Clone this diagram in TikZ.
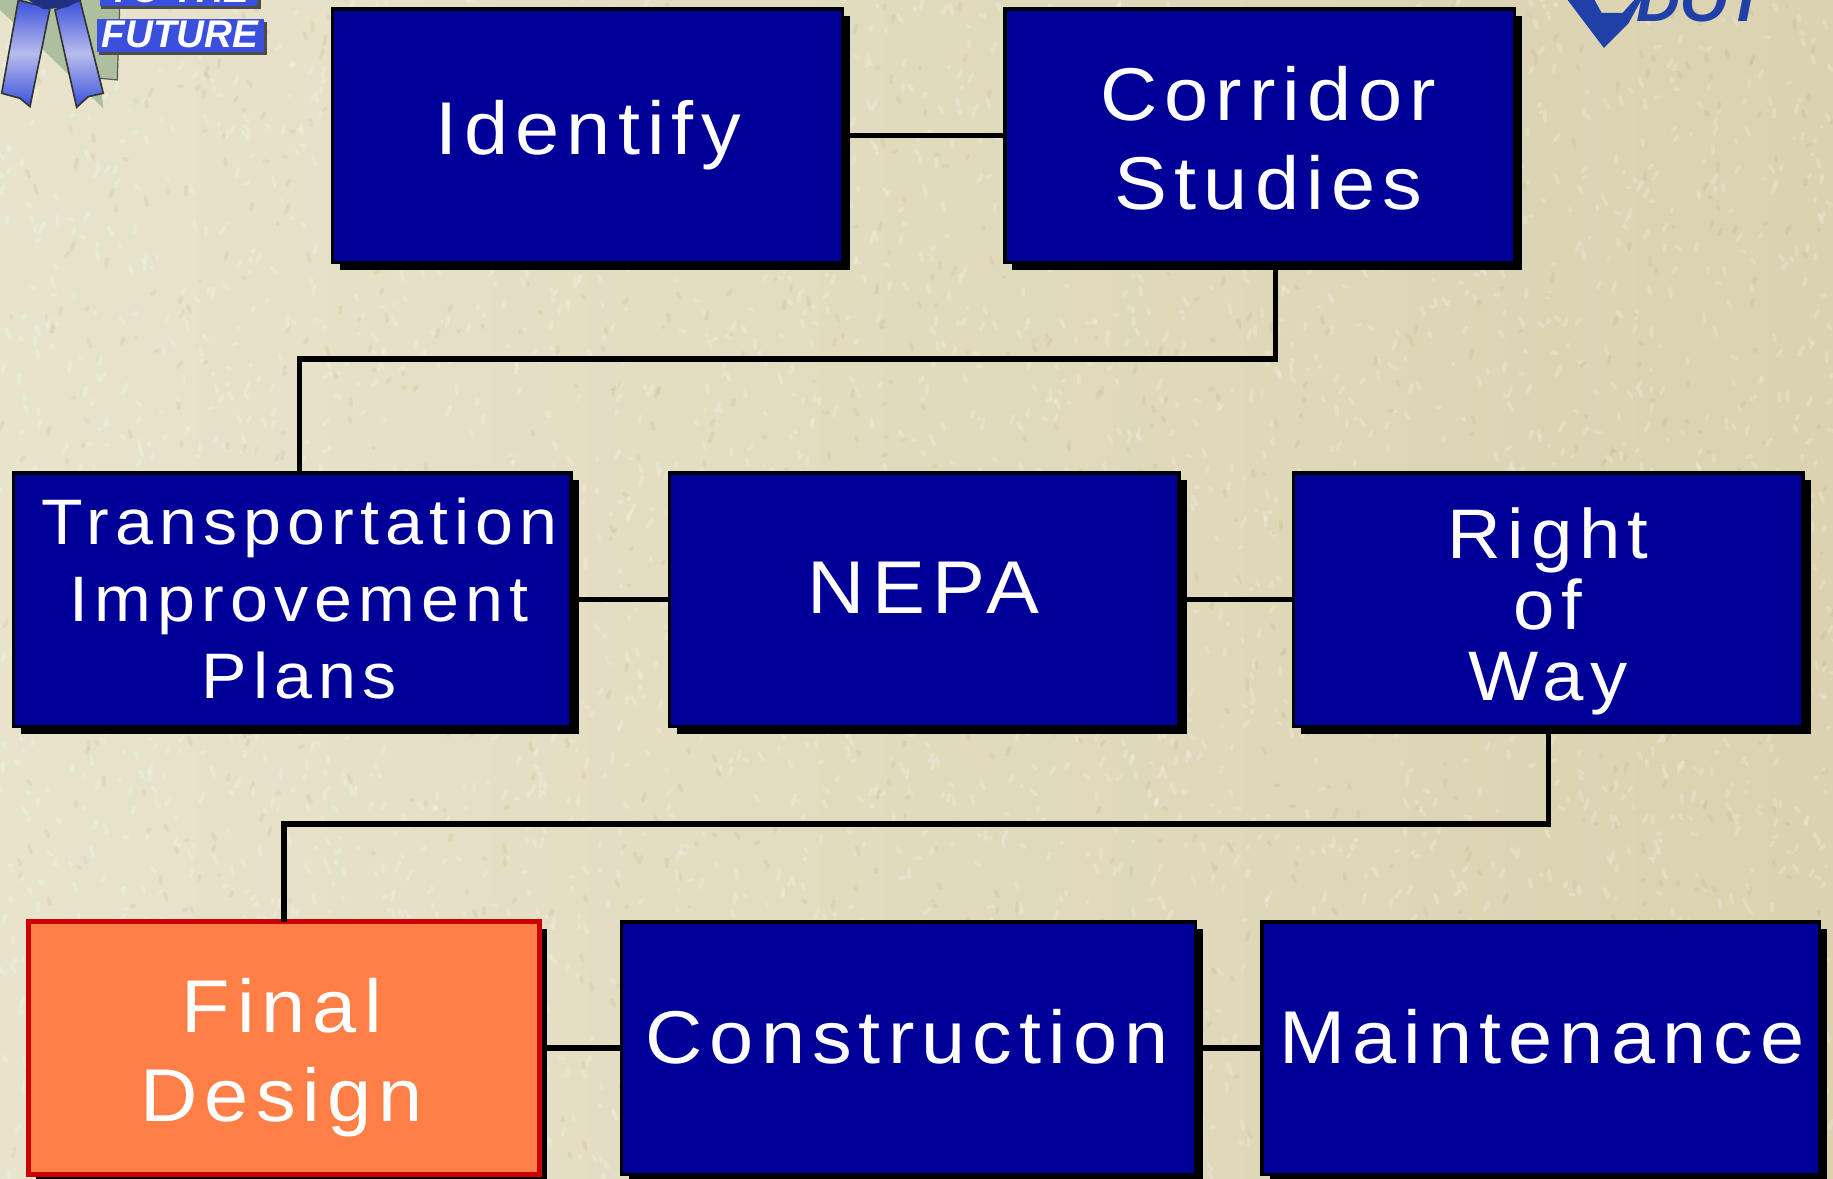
\documentclass[tikz,border=0pt]{standalone}
\usepackage{fontspec}
\setmainfont[LetterSpace=9.5,FakeStretch=1.06]{Liberation Sans}
\newfontfamily\logofont{Liberation Sans}
\usetikzlibrary{shadows,calc}
\definecolor{boxblue}{HTML}{000099}
\definecolor{boxorange}{HTML}{FF7F47}
\definecolor{boxred}{HTML}{CC0000}
\definecolor{paperL}{HTML}{E8E4CC}
\definecolor{paperR}{HTML}{DAD2B0}
\definecolor{fleckdark}{HTML}{8F8458}
\definecolor{logoblue}{HTML}{2B45B5}
\definecolor{ribbonblue}{HTML}{3A50DC}
\definecolor{odotblue}{HTML}{2040A8}
\definecolor{ribbonlight}{HTML}{B8BCEC}
\definecolor{logogreen}{HTML}{AEBF9E}
\tikzset{
  x=1pt,y=-1pt,
  flowbox/.style={draw=black,line width=3pt,fill=boxblue,anchor=north west,inner sep=0pt,outer sep=0pt,
    drop shadow={shadow xshift=6.5pt,shadow yshift=-6.5pt,fill=black,opacity=1}},
  hotbox/.style={flowbox,draw=boxred,line width=4pt,fill=boxorange},
  boxtext/.style={text=white,align=center,inner sep=0pt,font=\fontsize{64}{76}\selectfont},
  link/.style={draw=black,line width=4.6pt,line cap=butt,line join=miter},
  fleck/.style={line width=3.2pt,line cap=round},
}
\newcommand{\flowbox}[6][flowbox]{%
  \node[#1,minimum width=#5-#3-3,minimum height=#6-#4-3] (#2) at (#3+1.5,#4+1.5) {};}
\begin{document}
\begin{tikzpicture}
\useasboundingbox (0,0) rectangle (1568,1008);
\clip (0,0) rectangle (1568,1008);
% paper background
\shade[left color=paperL,right color=paperR] (0,0) rectangle (1568,1008);
\pgfmathsetseed{4242}
\foreach \i in {1,...,3500}{
  \pgfmathsetmacro{\px}{rnd*1568}
  \pgfmathsetmacro{\py}{rnd*1008}
  \pgfmathsetmacro{\dx}{(rnd-.5)*8}
  \pgfmathsetmacro{\dy}{(rnd-.5)*16}
  \draw[fleck,white,opacity=.2] (\px,\py) -- ++(\dx,\dy);
}
\foreach \i in {1,...,1200}{
  \pgfmathsetmacro{\px}{rnd*1568}
  \pgfmathsetmacro{\py}{rnd*1008}
  \pgfmathsetmacro{\dx}{(rnd-.5)*6}
  \pgfmathsetmacro{\dy}{(rnd-.5)*14}
  \draw[fleck,fleckdark,opacity=.1] (\px,\py) -- ++(\dx,\dy);
}
% left logo
\begin{scope}[x=.285pt,y=-.285pt]
  \fill[logogreen] (0,0) -- (360,0) -- (352,240) -- (300,235) -- (310,325) -- (130,150) -- (0,30) -- cycle;
  \draw[black!65,line width=1pt] (360,0) -- (352,240) -- (300,235);
  \shade[top color=ribbonblue,bottom color=ribbonblue,middle color=ribbonlight,draw=black!80,line width=1.4pt]
    (55,0) -- (150,25) -- (90,320) -- (60,295) -- (5,280) -- cycle;
  \shade[top color=ribbonblue,bottom color=ribbonblue,middle color=ribbonlight,draw=black!80,line width=1.4pt]
    (165,30) -- (240,0) -- (310,280) -- (265,290) -- (230,322) -- cycle;
  \fill[logoblue!70!black] (85,0) -- (245,0) -- (200,22) -- (130,28) -- cycle;
  \fill[black!70] (302,-8) rectangle (782,26);
  \fill[ribbonblue] (300,-8) rectangle (772,18);
  \fill[black!70] (298,66) rectangle (800,166);
  \fill[ribbonblue] (292,56) rectangle (792,156);
  \node[text=white,inner sep=0pt,anchor=base] (tothe) at (538,8)
    {\logofont\fontsize{33}{33}\selectfont\bfseries\itshape TO THE};
  \node[text=white,inner sep=0pt,anchor=base] (future) at (540,142)
    {\logofont\fontsize{33}{33}\selectfont\bfseries\itshape FUTURE};
\end{scope}
% right logo
\fill[odotblue,even odd rule] (1341,0) -- (1372,41) -- (1393,20) -- (1404,0) -- cycle
  (1364,0) -- (1370,11) -- (1388,11) -- (1398,0) -- cycle;
\node[text=odotblue,inner sep=0pt,anchor=base] (odot) at (1455,18)
  {\logofont\fontsize{52}{52}\selectfont\bfseries\itshape DOT};
% boxes
\flowbox{identify}{283}{6}{722}{226}
\flowbox{corridor}{858}{6}{1297}{226}
\flowbox{tip}{10}{403}{490}{623}
\flowbox{nepa}{571}{403}{1010}{623}
\flowbox{row}{1105}{403}{1544}{623}
\flowbox[hotbox]{final}{23}{787}{463}{1006}
\flowbox{construction}{530}{787}{1024}{1006}
\flowbox{maintenance}{1078}{787}{1558}{1006}
% box texts
\node[boxtext] (tidentify) at (503,116) {Identify};
\node[boxtext] (tcorridor) at (1085,118) {Corridor\\Studies};
\node[boxtext,font=\fontsize{55}{66}\selectfont] (ttip) at (256,512) {Transportation\\Improvement\\Plans};
\node[boxtext] (tnepa) at (790,503) {NEPA};
\node[boxtext,font=\fontsize{60}{61}\selectfont] (trow) at (1324,523) {Right\\of\\Way};
\node[boxtext] (tfinal) at (241,905) {Final\\Design};
\node[boxtext] (tconstruction) at (776,887) {Construction};
\node[boxtext] (tmaintenance) at (1319,887) {Maintenance};
% connectors
\coordinate (corridordrop) at (1091,226);
\coordinate (tiprise) at (256,403);
\draw[link] (identify.east) ++(5,0) -- (corridor.west);
\draw[link] (corridordrop) -- (1091,307) -- (256,307) -- (tiprise);
\draw[link] (tip.east) ++(5,0) -- (nepa.west);
\draw[link] (nepa.east) ++(5,0) -- (row.west);
\draw[link] (row.south) -- ++(0,83.5) -| (final.north);
\draw[link] (final.east) ++(5,0) -- (construction.west);
\draw[link] (construction.east) ++(5,0) -- (maintenance.west);
\end{tikzpicture}
\end{document}
